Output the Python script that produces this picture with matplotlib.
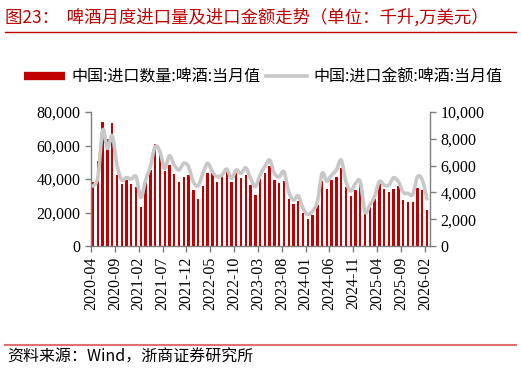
import matplotlib
matplotlib.use('Agg')
import matplotlib.pyplot as plt
from matplotlib.path import Path
from matplotlib.patches import PathPatch
from matplotlib.lines import Line2D
from matplotlib.ticker import FuncFormatter
import numpy as np

plt.rcParams['font.family'] = ['Noto Sans CJK SC', 'DejaVu Sans']

# monthly data 2020-04 .. 2026-02
start_year, start_month = 2020, 4
n_months = 71

# import volume (千升), left axis
volume = [38000, 50700, 74200, 63900, 73400, 42400, 36800, 39200, 36800, 35400,
          23300, 38000, 45200, 61100, 54300, 45000, 48400, 43000, 38200, 41400,
          42200, 33600, 28200, 35600, 43800, 45000, 38400, 41600, 44200, 38200,
          43800, 40600, 42600, 36400, 30400, 40200, 43600, 48000, 39400, 37800,
          38800, 28100, 25300, 27100, 19900, 16200, 18500, 24700, 39000, 34200,
          39600, 41200, 46800, 35200, 29700, 33400, 38800, 20300, 23300, 27900,
          37000, 34000, 32200, 33800, 36000, 27500, 26500, 26100, 34600, 33400,
          21500]

# import value (万美元), right axis
value = [4480, 5170, 8650, 7290, 8230, 6040, 4920, 5100, 5000, 5170,
         3610, 4920, 5920, 7410, 7040, 5800, 6740, 6040, 5670, 6170,
         5920, 4800, 4500, 5420, 6170, 5540, 5170, 5300, 5740, 5050,
         5670, 5420, 5840, 5050, 4420, 5300, 5920, 6420, 5420, 5170,
         5540, 4050, 3430, 3750, 2810, 2350, 2600, 3300, 5420, 4850,
         5300, 5670, 6420, 4800, 4100, 4670, 4800, 2540, 3060, 3680,
         4800, 4550, 4550, 5100, 4800, 4000, 3930, 3850, 5170, 4920,
         3510]

labels = []
for i in range(n_months):
    m = start_month - 1 + i
    labels.append('%d-%02d' % (start_year + m // 12, m % 12 + 1))

tick_idx = list(range(0, n_months, 5))

RED = '#C00000'
GRAY = '#C8C8C8'
AXIS = '#7F7F7F'


def smooth_path(xs, ys):
    """Catmull-Rom style smooth curve through the points, as bezier segments."""
    pts = np.column_stack([xs, ys]).astype(float)
    verts = [pts[0]]
    codes = [Path.MOVETO]
    n = len(pts)
    for i in range(n - 1):
        p0 = pts[i - 1] if i > 0 else pts[i]
        p1 = pts[i]
        p2 = pts[i + 1]
        p3 = pts[i + 2] if i + 2 < n else pts[i + 1]
        c1 = p1 + (p2 - p0) / 6.0
        c2 = p2 - (p3 - p1) / 6.0
        verts += [c1, c2, p2]
        codes += [Path.CURVE4] * 3
    return Path(verts, codes)


fig = plt.figure(figsize=(5.21, 3.75), dpi=100)
ax = fig.add_axes([91 / 521, 1 - 246 / 375, (430 - 91) / 521, (246 - 112) / 375])
ax2 = ax.twinx()

x = np.arange(n_months) + 0.45
ax.bar(x, volume, width=0.5, color=RED, zorder=2)
ax.set_xlim(0, 71.07)
ax.set_ylim(0, 80000)
ax.set_yticks(range(0, 80001, 20000))
ax.yaxis.set_major_formatter(FuncFormatter(lambda v, p: '{:,.0f}'.format(v)))

ax2.set_ylim(0, 10000)
ax2.set_yticks(range(0, 10001, 2000))
ax2.yaxis.set_major_formatter(FuncFormatter(lambda v, p: '{:,.0f}'.format(v)))
ax2.add_patch(PathPatch(smooth_path(x, value), fill=False, edgecolor=GRAY,
                        lw=2.6, capstyle='round', joinstyle='round', zorder=3))

ax.set_xticks(tick_idx)
ax.set_xticklabels([labels[i] for i in tick_idx], rotation=90)

for a in (ax, ax2):
    a.spines['top'].set_visible(False)
    for s in ('left', 'right', 'bottom'):
        a.spines[s].set_color(AXIS)
        a.spines[s].set_linewidth(1.0)
    a.tick_params(colors=AXIS, direction='out', length=4, width=1.0)
    for lab in a.get_xticklabels() + a.get_yticklabels():
        lab.set_fontfamily('Liberation Serif')
        lab.set_fontsize(11.5)
        lab.set_color('black')
ax.spines['right'].set_visible(False)
ax2.spines['left'].set_visible(False)
ax2.spines['bottom'].set_visible(False)

# legend
handles = [Line2D([], [], color=RED, lw=6, solid_capstyle='butt'),
           Line2D([], [], color=GRAY, lw=2.6)]
fig.legend(handles, ['中国:进口数量:啤酒:当月值', '中国:进口金额:啤酒:当月值'],
           loc='center', bbox_to_anchor=(0.505, 1 - 77 / 375), ncol=2,
           frameon=False, fontsize=11.5, handlelength=2.6, handletextpad=0.4,
           columnspacing=0.3)

# title and source
fig.text(5 / 521, 1 - 17 / 375, '图23：  啤酒月度进口量及进口金额走势（单位：千升,万美元）',
         color=RED, fontsize=12.5, va='center', ha='left')
fig.add_artist(Line2D([5 / 521, 516 / 521], [1 - 32 / 375] * 2, color=RED, lw=1.0))
fig.add_artist(Line2D([5 / 521, 516 / 521], [1 - 345 / 375] * 2, color='#E07070', lw=1.5))
fig.text(7 / 521, 1 - 357 / 375, '资料来源：Wind，浙商证券研究所', color='black',
         fontsize=11.5, va='center', ha='left')

fig.savefig('out.png', dpi=100)
